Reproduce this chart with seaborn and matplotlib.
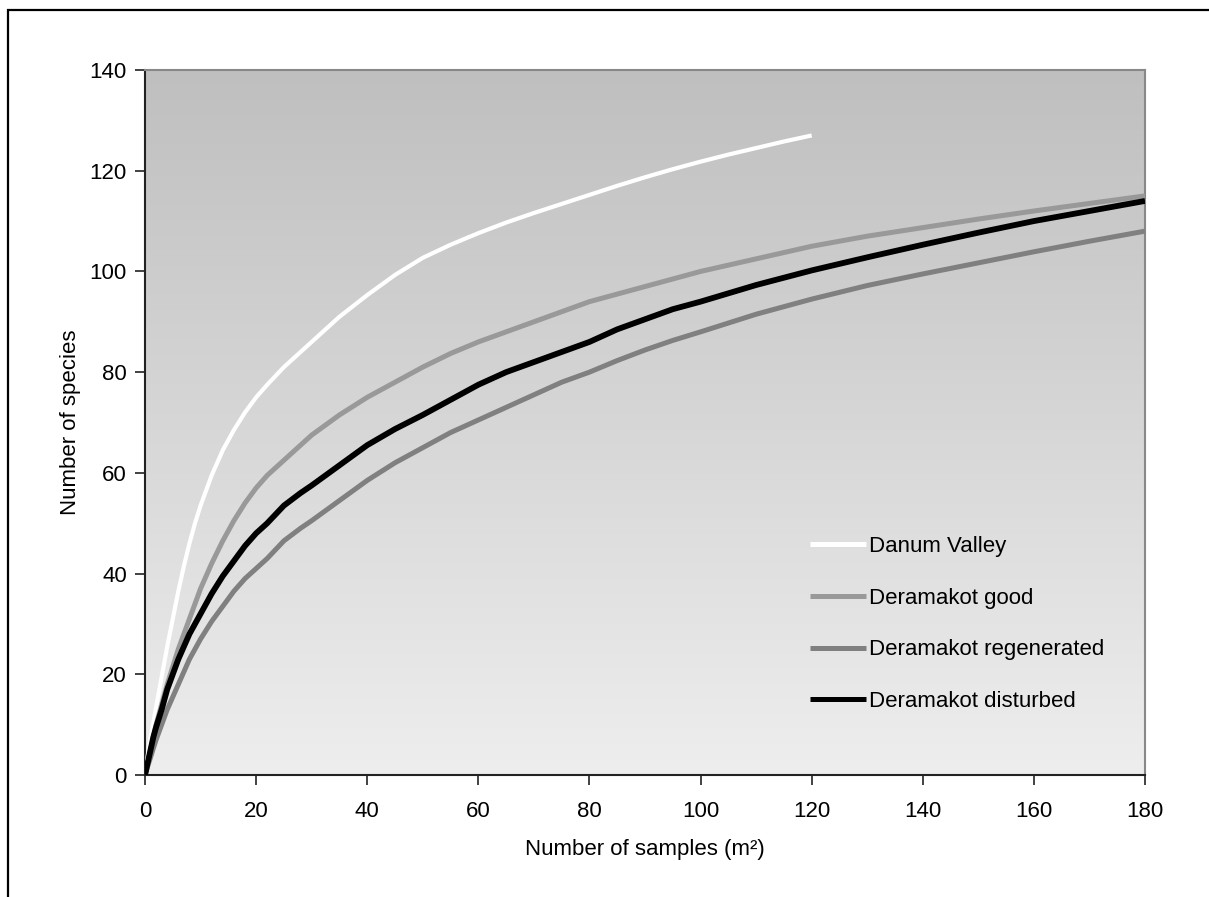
import numpy as np
import pandas as pd
import matplotlib
matplotlib.use("Agg")
import matplotlib.pyplot as plt
import seaborn as sns
from matplotlib.patches import Rectangle

# ---- data ----
x_danum = [0, 0.5, 1, 1.5, 2, 3, 4, 5, 6, 7, 8, 9, 10, 12, 14, 16, 18, 20, 22, 25, 28, 30, 35, 40,
           45, 50, 55, 60, 65, 70, 75, 80, 85, 90, 95, 100, 105, 110, 115, 120]
y_danum = [0, 4, 7.5, 10.5, 13.5, 19.5, 25.5, 31, 36.5, 41.5, 46, 50, 53.5, 59.5, 64.5, 68.5, 72, 75, 77.5,
           81, 84, 86, 91, 95.3, 99.3, 102.7, 105.3, 107.6, 109.7, 111.6, 113.4, 115.2, 117, 118.7, 120.3,
           121.8, 123.2, 124.5, 125.8, 127]

x_dk = [0, 0.5, 1, 1.5, 2, 3, 4, 5, 6, 7, 8, 9, 10, 12, 14, 16, 18, 20, 22, 25, 28, 30, 35, 40,
        45, 50, 55, 60, 65, 70, 75, 80, 85, 90, 95, 100, 110, 120, 130, 140, 150, 160, 170, 180]
y_good = [0, 2.5, 5, 7.5, 10, 14, 18, 21.5, 25, 28, 31, 34, 37, 42, 46.5, 50.5, 54, 57, 59.5, 62.5,
          65.5, 67.5, 71.5, 75, 78, 81, 83.7, 86, 88, 90, 92, 94, 95.5, 97, 98.5, 100, 102.5, 105,
          107, 108.7, 110.4, 112, 113.5, 115]
y_regen = [0, 1.8, 3.5, 5.3, 7, 10, 13, 15.5, 18, 20.5, 23, 25, 27, 30.5, 33.5, 36.5, 39, 41, 43, 46.5,
           49, 50.5, 54.5, 58.5, 62, 65, 68, 70.5, 73, 75.5, 78, 80, 82.3, 84.4, 86.3, 88, 91.5, 94.5,
           97.2, 99.5, 101.7, 103.9, 106, 108]
y_dist = [0, 2.5, 5, 7.5, 9.5, 13, 17, 20, 23, 25.5, 28, 30, 32, 36, 39.5, 42.5, 45.5, 48, 50, 53.5,
          56, 57.5, 61.5, 65.5, 68.7, 71.5, 74.5, 77.5, 80, 82, 84, 86, 88.5, 90.5, 92.5, 94, 97.3, 100.2,
          102.8, 105.3, 107.7, 110, 112, 114]

series_names = ["Danum Valley", "Deramakot good", "Deramakot regenerated", "Deramakot disturbed"]
x_ticks = [0, 20, 40, 60, 80, 100, 120, 140, 160, 180]
y_ticks = [0, 20, 40, 60, 80, 100, 120, 140]

df = pd.concat([
    pd.DataFrame({"samples": x_danum, "species": y_danum, "site": series_names[0]}),
    pd.DataFrame({"samples": x_dk, "species": y_good, "site": series_names[1]}),
    pd.DataFrame({"samples": x_dk, "species": y_regen, "site": series_names[2]}),
    pd.DataFrame({"samples": x_dk, "species": y_dist, "site": series_names[3]}),
], ignore_index=True)

colors = {series_names[0]: "#ffffff", series_names[1]: "#999999",
          series_names[2]: "#808080", series_names[3]: "#000000"}
widths = {series_names[0]: 3.0, series_names[1]: 3.6,
          series_names[2]: 3.6, series_names[3]: 4.2}

sns.set_theme(style="white")
plt.rcParams['font.family'] = ['Liberation Sans', 'DejaVu Sans']
plt.rcParams['text.color'] = 'black'
plt.rcParams['axes.labelcolor'] = 'black'
plt.rcParams['xtick.color'] = 'black'
plt.rcParams['ytick.color'] = 'black'

FS = 16

fig = plt.figure(figsize=(12.09, 8.97), dpi=100)
fig.patch.set_facecolor("white")
ax = fig.add_axes([145/1209, 1-775/897, 1000/1209, 705/897])

# gradient background
grad = np.linspace(0, 1, 256).reshape(-1, 1)
cmap = matplotlib.colors.LinearSegmentedColormap.from_list("g", ["#eeeeee", "#bfbfbf"])
ax.imshow(grad, extent=[0, 1, 0, 1], transform=ax.transAxes, origin="lower",
          cmap=cmap, aspect="auto", zorder=0)

for name in series_names:
    sub = df[df["site"] == name]
    sns.lineplot(data=sub, x="samples", y="species", ax=ax, color=colors[name],
                 linewidth=widths[name], label=name, zorder=3, solid_capstyle="butt",
                 solid_joinstyle="round")

ax.set_xlim(0, 180)
ax.set_ylim(0, 140)
ax.set_xticks(x_ticks)
ax.set_yticks(y_ticks)
ax.tick_params(axis="both", which="both", direction="out", length=7, width=1.2,
               color="#222222", labelsize=FS, labelcolor="black",
               bottom=True, left=True)
ax.tick_params(axis="x", pad=12)
ax.tick_params(axis="y", pad=6)
ax.set_xlabel("Number of samples (m²)", fontsize=FS, labelpad=12, color="black")
ax.set_ylabel("Number of species", fontsize=FS, labelpad=6.5, color="black")

for side in ["left", "bottom"]:
    ax.spines[side].set_color("#222222")
    ax.spines[side].set_linewidth(1.5)
for side in ["top", "right"]:
    ax.spines[side].set_visible(True)
    ax.spines[side].set_color("#888888")
    ax.spines[side].set_linewidth(1.5)

leg = ax.legend(loc="upper left", bbox_to_anchor=(799/1209, 1-525/897),
                bbox_transform=fig.transFigure, frameon=False, fontsize=FS,
                handlelength=2.5, handletextpad=0.15, labelspacing=1.38, borderpad=0)
for line in leg.get_lines():
    line.set_linewidth(3.6)
for t in leg.get_texts():
    t.set_color("black")

# outer frame (top and left visible)
fig.add_artist(Rectangle((8/1209, -0.2), 1.5, 1.2 - 10/897, transform=fig.transFigure,
                         fill=False, edgecolor="black", linewidth=1.6))

fig.savefig("out.png", dpi=100)
